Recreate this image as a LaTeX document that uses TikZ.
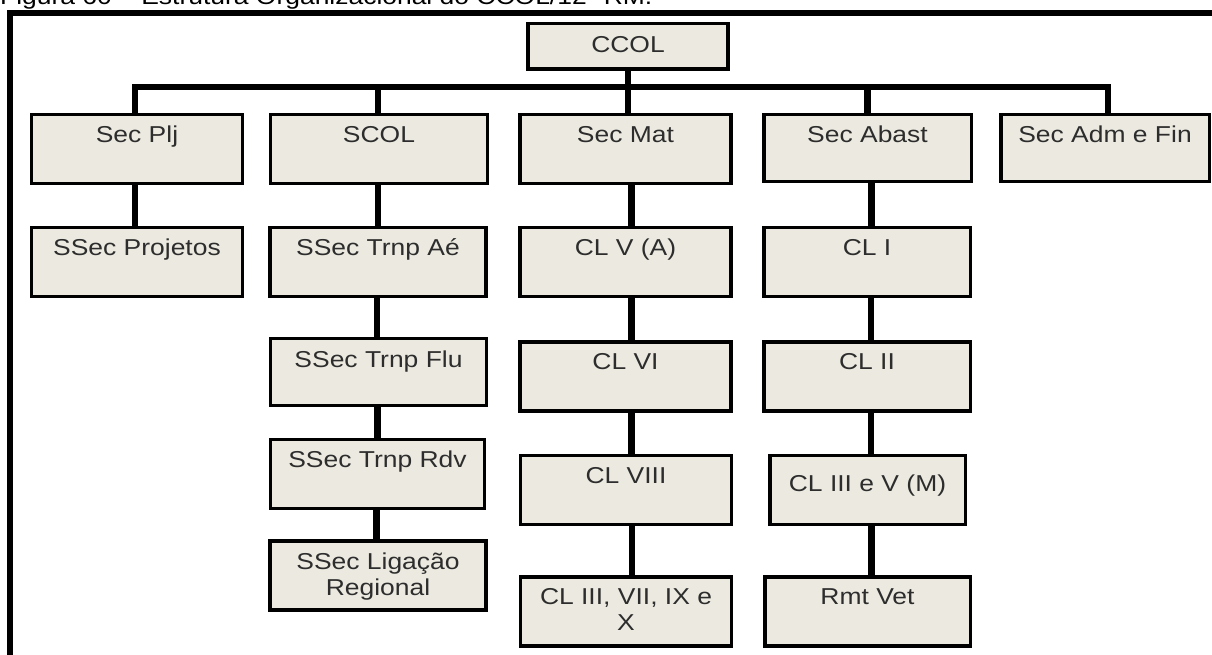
\documentclass[tikz,border=0pt]{standalone}
\usepackage{fontspec}
\setmainfont{Liberation Sans}
\newfontfamily\orgfont[FakeStretch=1.15]{Liberation Sans}
\usepackage{tikz}
\usetikzlibrary{positioning,calc}

\definecolor{boxfill}{RGB}{236,234,224}
\definecolor{textgray}{RGB}{45,45,45}

\begin{document}
\begin{tikzpicture}[x=1pt,y=-1pt,
    box/.style={draw=black, line width=3.5pt, fill=boxfill, minimum width=211pt, minimum height=69pt, inner sep=0pt},
    lbl/.style={anchor=north, inner sep=0pt, yshift=-13pt, text=textgray, align=center, font=\orgfont\fontsize{23}{26}\selectfont},
    link/.style={line width=6.5pt}]
    \useasboundingbox (0,0) rectangle (1212,655);
    \clip (0,0) rectangle (1212,655);

    % Caption (cut by the page top)
    \node[anchor=base west, inner sep=0pt, font=\orgfont\fontsize{23}{27}\selectfont] (caption) at (0,5) {Figura 60 – Estrutura Organizacional do CCOL/12ª RM.};

    % Frame
    \draw[line width=6pt] (10,700) -- (10,13) -- (1240,13);

    % Top
    \node[box, minimum width=200pt, minimum height=45.5pt, label={[lbl, yshift=-1pt]north:CCOL}] (ccol) at (628,46.5) {};

    % Sections
    \node[box, label={[lbl]north:Sec Plj}] (plj) at (137,149) {};
    \node[box, minimum width=217pt, label={[lbl]north:SCOL}] (scol) at (379,149) {};
    \node[box, label={[lbl]north:Sec Mat}] (mat) at (625.5,149) {};
    \node[box, minimum width=207.5pt, minimum height=67pt, label={[lbl]north:Sec Abast}] (abast) at (867.5,148) {};
    \node[box, minimum width=208.5pt, minimum height=67pt, label={[lbl]north:Sec Adm e Fin}] (adm) at (1105,148) {};

    % Sec Plj
    \node[box, label={[lbl]north:SSec Projetos}] (proj) at (137,262) {};

    % SCOL
    \node[box, minimum width=216pt, label={[lbl]north:SSec Trnp Aé}] (trnpae) at (378,262) {};
    \node[box, minimum width=216pt, minimum height=67pt, label={[lbl, yshift=-1pt]north:SSec Trnp Flu}] (trnpflu) at (378.5,372) {};
    \node[box, minimum width=214pt, label={[lbl]north:SSec Trnp Rdv}] (trnprdv) at (377.5,474) {};
    \node[box, minimum width=216pt, label={[lbl]north:{SSec Ligação\\Regional}}] (ligacao) at (378,575.5) {};

    % Sec Mat
    \node[box, label={[lbl]north:CL V (A)}] (clva) at (625.5,262) {};
    \node[box, label={[lbl]north:CL VI}] (clvi) at (625.5,376.5) {};
    \node[box, label={[lbl]north:CL VIII}] (clviii) at (626,490) {};
    \node[box, label={[lbl]north:{CL III, VII, IX e\\X}}] (clix) at (626,611.5) {};

    % Sec Abast
    \node[box, minimum width=206.5pt, label={[lbl]north:CL I}] (cli) at (867,262) {};
    \node[box, minimum width=206.5pt, label={[lbl]north:CL II}] (clii) at (867,376.5) {};
    \node[box, minimum width=195.5pt, label={[lbl, yshift=-8pt]north:CL III e V (M)}] (cliiiv) at (867.5,490) {};
    \node[box, minimum width=205.5pt, label={[lbl]north:Rmt Vet}] (rmt) at (867.5,611.5) {};

    % Links
    \coordinate (bus) at (628,87);
    \draw[link] (ccol.south) -- (ccol.south |- mat.north);
    \draw[link] ([xshift=-2pt]plj.north) |- (bus) -| ([xshift=3pt]adm.north);
    \draw[link] ([xshift=-1pt]scol.north) -- ([xshift=-1pt]scol.north |- bus);
    \draw[link] (abast.north) -- (abast.north |- bus);

    \draw[link] ([xshift=-2pt]plj.south) -- ([xshift=-2pt]plj.south |- proj.north);
    \foreach \a/\b in {scol/trnpae, trnpae/trnpflu, trnpflu/trnprdv, trnprdv/ligacao}
        \draw[link] ([xshift=-1pt]\a.south) -- ([xshift=-1pt]\a.south |- \b.north);
    \foreach \a/\b in {mat/clva, clva/clvi, clvi/clviii, clviii/clix}
        \draw[link] ([xshift=6pt]\a.south) -- ([xshift=6pt]\a.south |- \b.north);
    \foreach \a/\b in {abast/cli, cli/clii, clii/cliiiv, cliiiv/rmt}
        \draw[link] ([xshift=4pt]\a.south) -- ([xshift=4pt]\a.south |- \b.north);
\end{tikzpicture}
\end{document}
